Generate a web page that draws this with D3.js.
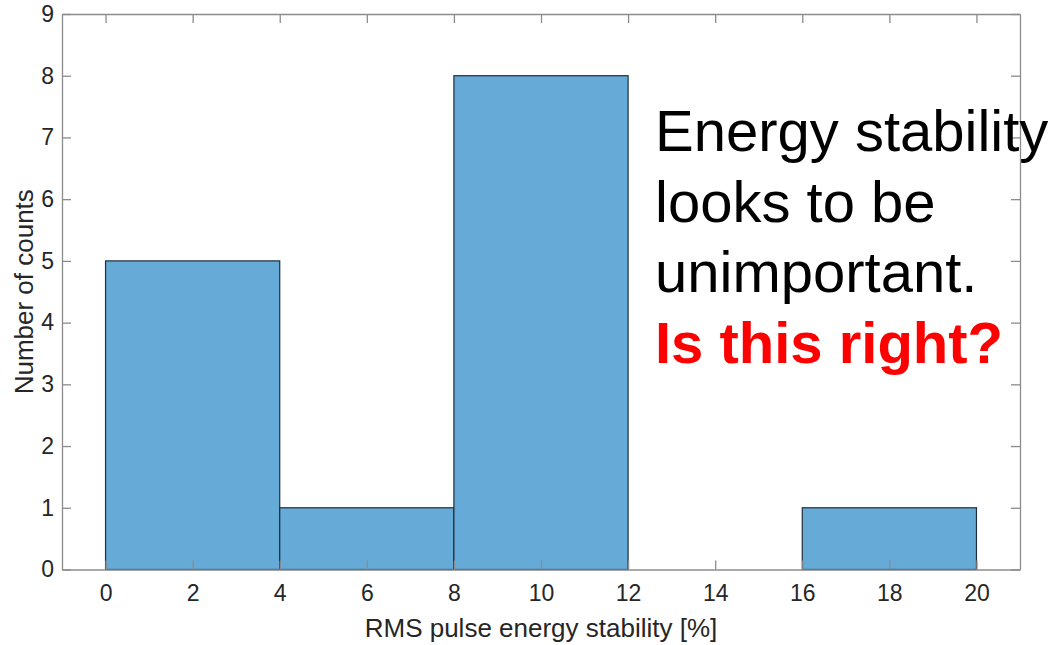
<!DOCTYPE html>
<html><head><meta charset="utf-8">
<script src="https://cdn.jsdelivr.net/npm/d3@7"></script>
<style>body{margin:0;background:#fff}svg{display:block}</style>
</head><body>
<svg id="c" width="1053" height="645"></svg>
<script>
const binEdges = [0, 4, 8, 12, 16, 20];
const counts = [5, 1, 8, 0, 1];
const xTicks = [0, 2, 4, 6, 8, 10, 12, 14, 16, 18, 20];
const yTicks = [0, 1, 2, 3, 4, 5, 6, 7, 8, 9];
const xLabel = "RMS pulse energy stability [%]";
const yLabel = "Number of counts";
const noteLines = ["Energy stability", "looks to be", "unimportant."];
const noteQuestion = "Is this right?";

const svg = d3.select("#c");
const L = 62, R = 1020, T = 14, B = 569.5;
const x = d3.scaleLinear().domain([-1, 21]).range([L, R]);
const y = d3.scaleLinear().domain([0, 9]).range([B, T]);
const axisCol = "#8c8c8c", textCol = "#262626", font = "'Liberation Sans', Arial, sans-serif";

const bins = counts.map((c, i) => ({x0: binEdges[i], x1: binEdges[i + 1], c}));
svg.append("g").selectAll("rect").data(bins.filter(d => d.c > 0)).join("rect")
  .attr("x", d => x(d.x0)).attr("width", d => x(d.x1) - x(d.x0))
  .attr("y", d => y(d.c)).attr("height", d => y(0) - y(d.c))
  .attr("fill", "#66aad7").attr("stroke", "#1f2d38").attr("stroke-width", 1.2);

function styleAxis(g) {
  g.selectAll("path").attr("stroke", axisCol).attr("stroke-width", 1.3);
  g.selectAll("line").attr("stroke", axisCol).attr("stroke-width", 1.3);
  g.selectAll("text").attr("fill", textCol).attr("font-family", font).attr("font-size", 23);
}
const tick = 9;
svg.append("g").attr("transform", `translate(0,${B})`)
  .call(d3.axisBottom(x).tickValues(xTicks).tickSizeInner(-tick).tickSizeOuter(0).tickPadding(15.5))
  .call(styleAxis);
svg.append("g").attr("transform", `translate(0,${T})`)
  .call(d3.axisTop(x).tickValues(xTicks).tickSizeInner(-tick).tickSizeOuter(0).tickFormat(""))
  .call(styleAxis);
svg.append("g").attr("transform", `translate(${L},0)`)
  .call(d3.axisLeft(y).tickValues(yTicks).tickSizeInner(-tick).tickSizeOuter(0).tickPadding(8))
  .call(styleAxis);
svg.append("g").attr("transform", `translate(${R},0)`)
  .call(d3.axisRight(y).tickValues(yTicks).tickSizeInner(-tick).tickSizeOuter(0).tickFormat(""))
  .call(styleAxis);

svg.append("text").attr("x", (L + R) / 2).attr("y", 637).attr("text-anchor", "middle")
  .attr("font-family", font).attr("font-size", 26).attr("fill", textCol).text(xLabel);
svg.append("text").attr("transform", `translate(33,${(T + B) / 2}) rotate(-90)`).attr("text-anchor", "middle")
  .attr("font-family", font).attr("font-size", 26).attr("fill", textCol).text(yLabel);

const note = svg.append("g").attr("font-family", font).attr("font-size", 58);
noteLines.forEach((t, i) => note.append("text").attr("x", 655).attr("y", 151 + i * 70.5).attr("fill", "#000").text(t));
note.append("text").attr("x", 655).attr("y", 151 + 3 * 70.5).attr("fill", "#ff0000").attr("font-weight", "bold").text(noteQuestion);
</script>
</body></html>
